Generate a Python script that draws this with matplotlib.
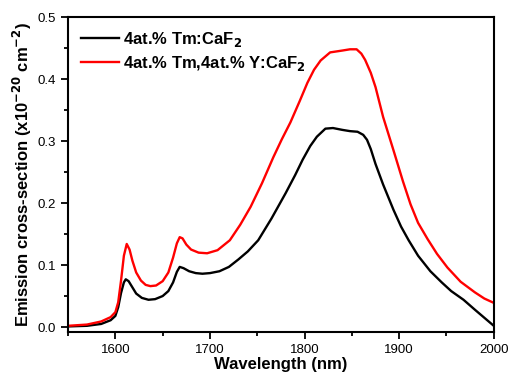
import matplotlib
matplotlib.use('Agg')
import matplotlib.pyplot as plt
from matplotlib.ticker import MultipleLocator, FormatStrFormatter

plt.rcParams['font.family'] = ['Liberation Sans', 'DejaVu Sans']

###############################################
### Data

wl_tm = [1550, 1570, 1585, 1595, 1600, 1603, 1606, 1609, 1611, 1614, 1618, 1622,
         1628, 1635, 1642, 1650, 1656, 1661, 1665, 1668, 1672, 1678, 1685, 1692,
         1700, 1710, 1720, 1730, 1740, 1751, 1765, 1780, 1790, 1798, 1806, 1813,
         1822, 1830, 1840, 1848, 1856, 1862, 1866, 1870, 1875, 1883, 1894, 1902,
         1910, 1920, 1933, 1945, 1955, 1968, 1980, 1990, 2000]
sig_tm = [0.001, 0.002, 0.005, 0.011, 0.018, 0.032, 0.055, 0.072, 0.077, 0.074, 0.064, 0.054,
          0.047, 0.044, 0.045, 0.050, 0.058, 0.072, 0.089, 0.097, 0.095, 0.090, 0.087, 0.086,
          0.087, 0.090, 0.097, 0.109, 0.122, 0.140, 0.175, 0.216, 0.245, 0.270, 0.292, 0.307,
          0.320, 0.321, 0.318, 0.316, 0.315, 0.310, 0.302, 0.287, 0.263, 0.230, 0.189, 0.162,
          0.140, 0.115, 0.090, 0.072, 0.058, 0.044, 0.028, 0.015, 0.002]

wl_tmy = [1550, 1570, 1585, 1595, 1600, 1603, 1606, 1609, 1612, 1615, 1618, 1622,
          1627, 1632, 1637, 1643, 1650, 1656, 1661, 1665, 1668, 1671, 1675, 1680,
          1688, 1697, 1708, 1721, 1732, 1743, 1755, 1767, 1776, 1785, 1795, 1803,
          1810, 1817, 1827, 1840, 1848, 1855, 1860, 1864, 1870, 1875, 1883, 1894,
          1904, 1912, 1920, 1930, 1940, 1951, 1965, 1980, 1990, 2000]
sig_tmy = [0.002, 0.004, 0.009, 0.016, 0.024, 0.040, 0.075, 0.115, 0.134, 0.125, 0.107, 0.088,
           0.075, 0.068, 0.066, 0.067, 0.074, 0.088, 0.112, 0.135, 0.145, 0.143, 0.133, 0.125,
           0.120, 0.119, 0.124, 0.140, 0.165, 0.194, 0.232, 0.274, 0.303, 0.330, 0.365, 0.394,
           0.415, 0.430, 0.443, 0.446, 0.448, 0.448, 0.441, 0.431, 0.410, 0.387, 0.339, 0.285,
           0.235, 0.198, 0.168, 0.142, 0.118, 0.096, 0.073, 0.056, 0.046, 0.039]

labels = [r'4at.% Tm:CaF$_\mathbf{2}$', r'4at.% Tm,4at.% Y:CaF$_\mathbf{2}$']

###############################################
### Plot

fig = plt.figure(figsize=(5.08, 3.79), dpi=100)
ax = fig.add_axes([0.134, 0.124, 0.838, 0.831])

ax.plot(wl_tm, sig_tm, color='black', lw=1.7, label=labels[0])
ax.plot(wl_tmy, sig_tmy, color='red', lw=1.7, label=labels[1])

ax.set_xlim(1550, 2000)
ax.set_ylim(-0.008, 0.5)
ax.xaxis.set_major_locator(MultipleLocator(100))
ax.xaxis.set_minor_locator(MultipleLocator(50))
ax.yaxis.set_major_locator(MultipleLocator(0.1))
ax.yaxis.set_minor_locator(MultipleLocator(0.05))
ax.yaxis.set_major_formatter(FormatStrFormatter('%.1f'))
ax.tick_params(which='both', direction='out', top=False, right=False, labelsize=9.5, width=1.3)
ax.tick_params(which='major', length=5)
ax.tick_params(which='minor', length=3)
for s in ax.spines.values():
    s.set_linewidth(1.5)

ax.set_xlabel('Wavelength (nm)', fontsize=12, fontweight='bold', labelpad=1)
ax.set_ylabel(r'Emission cross-section (x10$^{\mathbf{-20}}$ cm$^{\mathbf{-2}}$)',
              fontsize=12, fontweight='bold', labelpad=3)

leg = ax.legend(loc='upper left', frameon=False, fontsize=12, handlelength=2.3,
                handletextpad=0.25, labelspacing=0.3, borderaxespad=0.35)
for t in leg.get_texts():
    t.set_fontweight('bold')

fig.savefig('out.png', dpi=100)
